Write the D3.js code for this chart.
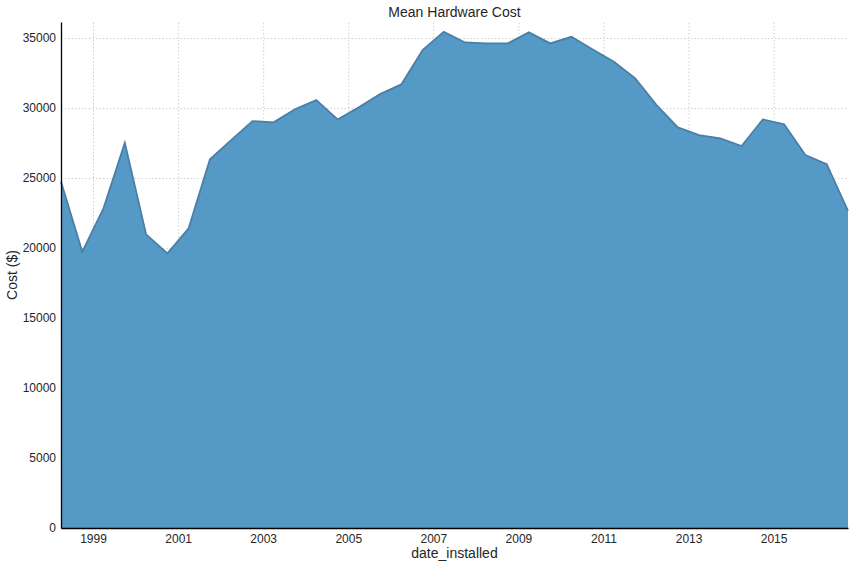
<!DOCTYPE html>
<html>
<head>
<meta charset="utf-8">
<script src="https://cdn.jsdelivr.net/npm/d3@7"></script>
<style>
  body { margin: 0; background: #fff; font-family: "Liberation Sans", Arial, sans-serif; }
  .grid line { stroke: #cfcfcf; stroke-dasharray: 1.5,2; }
  .grid path { display: none; }
  .axis text { font-size: 12px; fill: #262626; }
</style>
</head>
<body>
<svg id="chart" width="852" height="565"></svg>
<script>
const dates = [
  "1998-04", "1998-10", "1999-04", "1999-10", "2000-04", "2000-10",
  "2001-04", "2001-10", "2002-04", "2002-10", "2003-04", "2003-10",
  "2004-04", "2004-10", "2005-04", "2005-10", "2006-04", "2006-10",
  "2007-04", "2007-10", "2008-04", "2008-10", "2009-04", "2009-10",
  "2010-04", "2010-10", "2011-04", "2011-10", "2012-04", "2012-10",
  "2013-04", "2013-10", "2014-04", "2014-10", "2015-04", "2015-10",
  "2016-04", "2016-10"
]
const meanCost = [
  24740, 19740, 22840, 27520, 20980, 19620,
  21410, 26340, 27710, 29070, 28980, 29910,
  30570, 29190, 30050, 31000, 31690, 34140,
  35450, 34690, 34620, 34620, 35410, 34620,
  35090, 34190, 33310, 32120, 30210, 28620,
  28070, 27840, 27290, 29190, 28840, 26640,
  26000, 22660
]
const yTicks = [0, 5000, 10000, 15000, 20000, 25000, 30000, 35000]
const xTickYears = [1999, 2001, 2003, 2005, 2007, 2009, 2011, 2013, 2015]

const parse = d3.timeParse('%Y-%m')
const data = dates.map((d, i) => ({ date: parse(d), value: meanCost[i] }))

const margin = { top: 22, right: 4, bottom: 37, left: 61 }
const width = 852 - margin.left - margin.right
const height = 565 - margin.top - margin.bottom

const svg = d3.select('#chart')
const g = svg.append('g').attr('transform', `translate(${margin.left},${margin.top})`)

const x = d3.scaleTime()
    .domain(d3.extent(data, d => d.date))
    .range([0, width])

const y = d3.scaleLinear()
    .domain([0, 36150])
    .range([height, 0])

const xTickDates = xTickYears.map(yr => new Date(yr, 0, 1))

// grid
g.append('g').attr('class', 'grid')
    .call(d3.axisLeft(y).tickValues(yTicks).tickSize(-width).tickFormat(''))
g.append('g').attr('class', 'grid')
    .attr('transform', `translate(0,${height})`)
    .call(d3.axisBottom(x).tickValues(xTickDates).tickSize(-height).tickFormat(''))

// area
const area = d3.area()
    .x(d => x(d.date))
    .y0(y(0))
    .y1(d => y(d.value))

g.append('path')
    .datum(data)
    .attr('fill', '#5599c6')
    .attr('d', area)

g.append('path')
    .datum(data)
    .attr('fill', 'none')
    .attr('stroke', '#4a7fa6')
    .attr('stroke-width', 1.8)
    .attr('d', d3.line().x(d => x(d.date)).y(d => y(d.value)))

// axes
const yAxis = g.append('g').attr('class', 'axis')
    .call(d3.axisLeft(y).tickValues(yTicks).tickSize(0).tickPadding(5).tickFormat(d3.format('d')))
yAxis.select('.domain').attr('stroke', '#000').attr('stroke-width', 1.3)

const xAxis = g.append('g').attr('class', 'axis')
    .attr('transform', `translate(0,${height})`)
    .call(d3.axisBottom(x).tickValues(xTickDates).tickSize(0).tickPadding(6).tickFormat(d3.timeFormat('%Y')))
xAxis.select('.domain').attr('stroke', '#000').attr('stroke-width', 1.3)

// labels
svg.append('text')
    .attr('x', margin.left + width / 2)
    .attr('y', 17)
    .attr('text-anchor', 'middle')
    .style('font-size', '14px')
    .style('fill', '#262626')
    .text('Mean Hardware Cost')

svg.append('text')
    .attr('x', margin.left + width / 2)
    .attr('y', 558)
    .attr('text-anchor', 'middle')
    .style('font-size', '14px')
    .style('fill', '#262626')
    .text('date_installed')

svg.append('text')
    .attr('transform', `translate(17,${margin.top + height / 2}) rotate(-90)`)
    .attr('text-anchor', 'middle')
    .style('font-size', '14px')
    .style('fill', '#262626')
    .text('Cost ($)')
</script>
</body>
</html>
